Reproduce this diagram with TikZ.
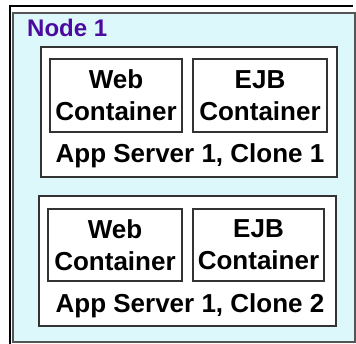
\documentclass[tikz,border=0pt]{standalone}
\usepackage{fontspec}
\setmainfont{Liberation Sans}
\definecolor{panelfill}{HTML}{DDF8FA}
\definecolor{panelline}{HTML}{555555}
\definecolor{boxline}{HTML}{333333}
\definecolor{nodetitle}{HTML}{4B0AA0}
\tikzset{
  panel/.style={draw=panelline, line width=1.5pt, fill=panelfill},
  serverbox/.style={draw=boxline, line width=1.5pt, fill=white, inner sep=0pt},
  containerbox/.style={draw=boxline, line width=1.3pt, fill=white, inner sep=0pt,
    align=center, font=\fontsize{26}{32}\selectfont\bfseries},
  serverlabel/.style={anchor=base, inner sep=0pt, font=\fontsize{26}{32}\selectfont\bfseries},
  titlelabel/.style={anchor=base west, inner sep=0pt, text=nodetitle,
    font=\fontsize{24}{28}\selectfont\bfseries},
}
\begin{document}
\begin{tikzpicture}[x=1pt,y=-1pt]
  \useasboundingbox (0,0) rectangle (356,344);
  \clip (0,0) rectangle (356,344);

  % outer frame
  \draw[black, line width=2pt] (353,6.5) -- (9.5,6.5) -- (9.5,346);

  % machine panel
  \node[panel, inner sep=0pt, minimum width=342pt, minimum height=329pt] (panel) at (184,177.5) {};
  \node[titlelabel] (title) at (27,37) {Node 1};

  % clone 1
  \node[serverbox, minimum width=296pt, minimum height=130pt] (srv1) at (189,112) {};
  \node[containerbox, minimum width=132pt, minimum height=73pt] (web1) at (116,95.5) {Web\\Container};
  \node[containerbox, minimum width=134pt, minimum height=73pt] (ejb1) at (260,95.5) {EJB\\Container};
  \node[serverlabel] (lab1) at (190,163) {App Server 1, Clone 1};

  % clone 2
  \node[serverbox, minimum width=297pt, minimum height=130pt] (srv2) at (187.5,261) {};
  \node[containerbox, minimum width=134pt, minimum height=72pt] (web2) at (115,245) {Web\\Container};
  \node[containerbox, minimum width=131pt, minimum height=72pt] (ejb2) at (258.5,245) {EJB\\Container};
  \node[serverlabel] (lab2) at (190,313) {App Server 1, Clone 2};
\end{tikzpicture}
\end{document}
